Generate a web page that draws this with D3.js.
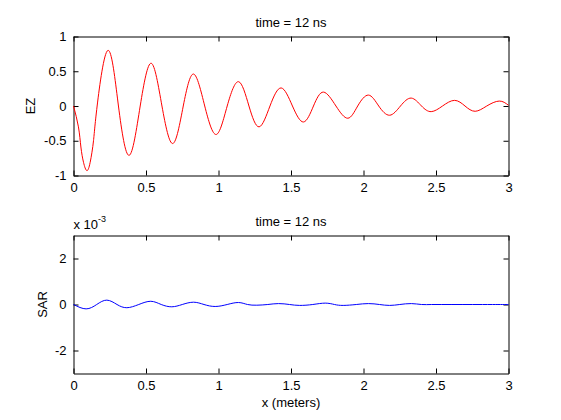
<!DOCTYPE html>
<html>
<head>
<meta charset="utf-8">
<script src="https://cdn.jsdelivr.net/npm/d3@7"></script>
<style>
  body { margin: 0; background: #fff; }
  text { font-family: "Liberation Sans", Arial, sans-serif; font-size: 13px; fill: #000; }
</style>
</head>
<body>
<div id="chart"></div>
<script>
// values
const xTicks = [0, 0.5, 1, 1.5, 2, 2.5, 3]
const ezTicks = [-1, -0.5, 0, 0.5, 1]
const sarTicks = [-2, 0, 2]

const ezX = [0, 0.034, 0.051, 0.069, 0.092, 0.115, 0.138, 0.163, 0.237, 0.31, 0.384, 0.46, 0.536, 0.61,
  0.685, 0.757, 0.828, 0.905, 0.984, 1.06, 1.138, 1.21, 1.28, 1.355, 1.432, 1.51, 1.586, 1.655,
  1.724, 1.81, 1.892, 1.96, 2.034, 2.105, 2.18, 2.255, 2.329, 2.40, 2.467, 2.545, 2.628, 2.70,
  2.77, 2.85, 2.936, 3.0]
const ezY = [0, -0.30, -0.59, -0.81, -0.93, -0.81, -0.50, 0, 0.80, 0, -0.71, 0, 0.615, 0,
  -0.54, 0, 0.46, 0, -0.41, 0, 0.35, 0, -0.30, 0, 0.26, 0, -0.23, 0,
  0.20, 0, -0.176, 0, 0.157, 0, -0.133, 0, 0.114, 0, -0.081, 0, 0.081, 0,
  -0.076, 0, 0.071, 0.01]

// SAR in units of 1e-3
const sarX = [0, 0.087, 0.16, 0.23, 0.30, 0.368, 0.45, 0.533, 0.605, 0.678, 0.75, 0.828, 0.90,
  0.977, 1.06, 1.138, 1.20, 1.264, 1.34, 1.414, 1.49, 1.56, 1.65, 1.736, 1.80, 1.86, 1.95,
  2.034, 2.11, 2.18, 2.25, 2.33, 2.40, 2.47, 2.54, 2.61, 2.68, 2.75, 2.82, 2.89, 2.96, 3.0]
const sarY = [0, -0.19, 0, 0.19, 0, -0.14, 0, 0.14, 0, -0.10, 0, 0.10, 0,
  -0.086, 0, 0.086, 0, -0.03, 0, 0.04, 0, -0.04, 0, 0.06, 0, -0.04, 0,
  0.04, 0, -0.04, 0, 0.04, 0, 0, 0, 0, 0, 0, 0, 0, 0, 0]

const width = 561, height = 420
const left = 73.5, right = 508.5

const svg = d3.select("#chart")
  .append("svg")
  .attr("width", width)
  .attr("height", height)

function drawPanel(top, bottom, yDomain, yTicks, xs, ys, color, ylabel, xlabel) {
  const x = d3.scaleLinear().domain([0, 3]).range([left, right])
  const y = d3.scaleLinear().domain(yDomain).range([bottom, top])
  const fmt = d => String(d)

  svg.append("g")
    .attr("transform", "translate(0," + bottom + ")")
    .call(d3.axisBottom(x).tickValues(xTicks).tickFormat(fmt).tickSizeInner(-5).tickSizeOuter(0).tickPadding(7))
  svg.append("g")
    .attr("transform", "translate(0," + top + ")")
    .call(d3.axisTop(x).tickValues(xTicks).tickFormat("").tickSizeInner(-5).tickSizeOuter(0))
  svg.append("g")
    .attr("transform", "translate(" + left + ",0)")
    .call(d3.axisLeft(y).tickValues(yTicks).tickFormat(fmt).tickSizeInner(-5).tickSizeOuter(0).tickPadding(7))
  svg.append("g")
    .attr("transform", "translate(" + right + ",0)")
    .call(d3.axisRight(y).tickValues(yTicks).tickFormat("").tickSizeInner(-5).tickSizeOuter(0))

  svg.selectAll(".tick line").attr("stroke", "#000")
  svg.selectAll(".domain").attr("stroke", "#000")
  svg.selectAll(".tick text").style("font-size", "13px").style("font-family", "Liberation Sans, Arial, sans-serif")

  // natural spline through the read extrema and zero crossings
  const line = d3.line()
    .x(d => x(d[0]))
    .y(d => y(d[1]))
    .curve(d3.curveNatural)

  svg.append("path")
    .datum(d3.zip(xs, ys))
    .attr("d", line)
    .attr("fill", "none")
    .attr("stroke", color)
    .attr("stroke-width", 1)

  svg.append("text")
    .attr("x", (left + right) / 2)
    .attr("y", top - 9.5)
    .attr("text-anchor", "middle")
    .text("time = 12 ns")

  svg.append("text")
    .attr("transform", "translate(" + ylabel.x + "," + (top + bottom) / 2 + ") rotate(-90)")
    .attr("text-anchor", "middle")
    .text(ylabel.text)

  if (xlabel) {
    svg.append("text")
      .attr("x", (left + right) / 2)
      .attr("y", 407)
      .attr("text-anchor", "middle")
      .text(xlabel)
  }
}

drawPanel(36.5, 175.5, [-1, 1], ezTicks, ezX, ezY, "#ff0000", {x: 35, text: "EZ"})
drawPanel(235.5, 373.5, [-3, 3], sarTicks, sarX, sarY, "#0000ff", {x: 47, text: "SAR"}, "x (meters)")

// exponent label of the lower axes
const expo = svg.append("text")
  .attr("x", left)
  .attr("y", 228.5)
expo.append("tspan").text("x 10")
expo.append("tspan").attr("dy", -7).style("font-size", "9px").text("-3")
</script>
</body>
</html>
